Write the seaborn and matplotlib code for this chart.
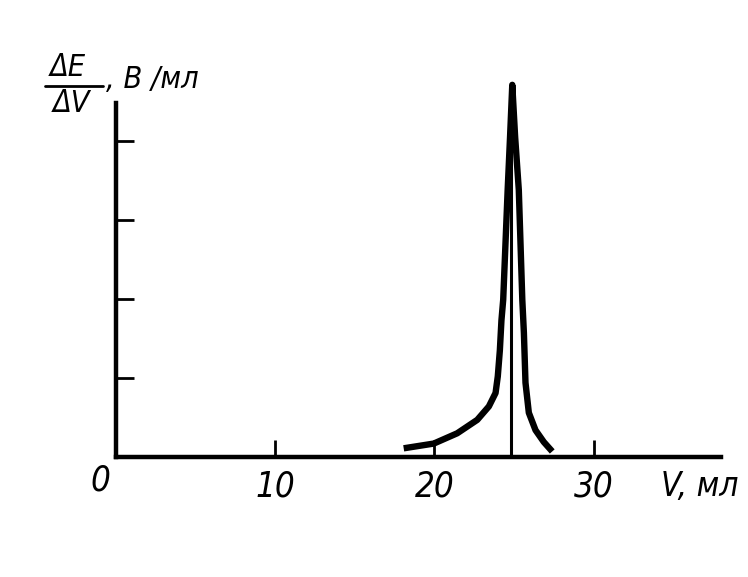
import matplotlib
matplotlib.use('Agg')
import matplotlib.pyplot as plt
import seaborn as sns
import pandas as pd
from matplotlib.lines import Line2D

# derivative titration curve
v_ml = [18.07, 19.96, 21.43, 22.69, 23.42, 23.84, 23.98, 24.11, 24.21, 24.32,
        24.60, 24.75, 24.89, 25.07, 25.30, 25.52, 25.62, 25.72, 25.93, 26.35,
        26.87, 27.40]
de_dv = [0.11, 0.17, 0.30, 0.47, 0.64, 0.81, 1.02, 1.35, 1.73, 1.99,
         3.38, 4.05, 4.71, 4.05, 3.38, 1.99, 1.57, 0.94, 0.56, 0.34,
         0.19, 0.07]
v_eq = 24.8  # equivalence point
x_ticks = [10, 20, 30]
y_ticks = [1, 2, 3, 4]

curve = pd.DataFrame({'V': v_ml, 'dEdV': de_dv})

sns.set_style('white')
font = {'family': ['DejaVu Sans'], 'style': 'italic', 'stretch': 'condensed',
        'color': 'black'}

fig = plt.figure(figsize=(7.48, 5.77), dpi=100)
ax = fig.add_axes([116 / 748, 1 - 457 / 577, (721 - 116) / 748, (457 - 103) / 577])

sns.lineplot(data=curve, x='V', y='dEdV', sort=False, estimator=None,
             color='black', linewidth=4.6, ax=ax, clip_on=False,
             solid_joinstyle='round', solid_capstyle='butt')
ax.vlines(v_eq, 0, 4.5, color='black', linewidth=2.2, clip_on=False)

ax.set_xlim(0, 38)
ax.set_ylim(0, 4.48)
for s in ['top', 'right']:
    ax.spines[s].set_visible(False)
for s in ['left', 'bottom']:
    ax.spines[s].set_linewidth(3.2)
    ax.spines[s].set_color('black')

ax.set_xticks(x_ticks)
ax.set_xticklabels([str(t) for t in x_ticks], fontdict=font, fontsize=25)
ax.set_yticks(y_ticks)
ax.set_yticklabels([])
ax.tick_params(axis='x', bottom=True, direction='in', length=12, width=2,
               pad=9, colors='black')
ax.tick_params(axis='y', left=True, direction='in', length=13, width=2,
               colors='black')
ax.set_xlabel('')
ax.set_ylabel('')

ax.text(-1.0, -0.30, '0', fontdict=font, fontsize=25, ha='center', va='center')
fig.text(700 / 748, 1 - 487 / 577, 'V, мл', fontdict=font, fontsize=24,
         ha='center', va='center')

# y-axis label as a fraction
fig.text(68 / 748, 1 - 67 / 577, 'ΔE', fontdict=font, fontsize=22, ha='center', va='center')
fig.text(71 / 748, 1 - 104 / 577, 'ΔV', fontdict=font, fontsize=22, ha='center', va='center')
fig.add_artist(Line2D([45 / 748, 103 / 748], [1 - 86 / 577, 1 - 86 / 577],
                      color='black', linewidth=2, transform=fig.transFigure))
fig.text(106 / 748, 1 - 80 / 577, ', В /мл', fontdict=font, fontsize=22, ha='left', va='center')

fig.savefig('out.png', dpi=100, facecolor='white')
